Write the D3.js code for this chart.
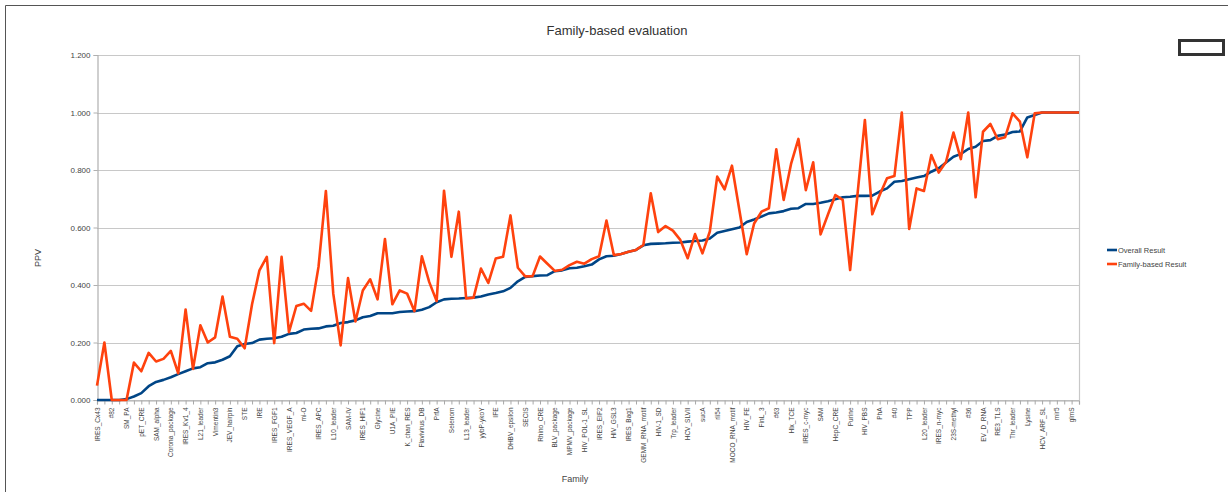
<!DOCTYPE html>
<html>
<head>
<meta charset="utf-8">
<script src="https://cdn.jsdelivr.net/npm/d3@7/dist/d3.min.js"></script>
<style>
  html, body { margin: 0; padding: 0; background: #fff; }
  svg { display: block; font-family: "Liberation Sans", Arial, sans-serif; }
</style>
</head>
<body>
<svg id="chart" width="1228" height="492"></svg>
<script>
// ---- Data ----
const tickLabels = [
  "IRES_Cx43", "#82", "SM_PA", "pET_CRE", "SAM_alpha", "Corona_package", "IRES_Kv1_4",
  "L21_leader", "Vimentin3", "JEV_hairpin", "STE", "IRE", "IRES_FGF1", "IRES_VEGF_A",
  "mi-O", "IRES_APC", "L10_leader", "SAM-IV", "IRES_HIF1", "Glycine", "U1A_PIE",
  "K_chan_RES", "Flavivirus_DB", "PrfA", "Selenom", "L13_leader", "yybP-ykoY", "IFE",
  "DHBV_epsilon", "SECIS", "Rhino_CRE", "BLV_package", "MPMV_package", "HIV_POL-1_SL",
  "IRES_EIF2", "HIV_GSL3", "IRES_Bag1", "GEMM_RNA_motif", "HIV-1_SD", "Trp_leader",
  "HCV_SLVII", "sucA", "rli54", "MOCO_RNA_motif", "HIV_FE", "FinL_3", "#63", "Hlx_TCE",
  "IRES_c-myc", "SAM", "HepC_CRE", "Purine", "HIV_PBS", "PhA", "#40", "TPP",
  "L20_leader", "IRES_n-myc", "23S-methyl", "#36", "EV_D_RNA", "RE3_TLS", "Thr_leader",
  "Lysine", "HCV_ARF_SL", "mir5", "glmS"
];

const overallResult = [
  0, 0, 0, 0, 0.003, 0.012, 0.024, 0.048, 0.063, 0.07,
  0.079, 0.09, 0.1, 0.11, 0.114, 0.128, 0.131, 0.14, 0.152, 0.187,
  0.195, 0.198, 0.21, 0.213, 0.215, 0.22, 0.23, 0.233, 0.245, 0.248,
  0.249, 0.256, 0.258, 0.268, 0.271, 0.277, 0.288, 0.292, 0.302, 0.302,
  0.302, 0.306, 0.308, 0.309, 0.314, 0.323, 0.34, 0.35, 0.352, 0.353,
  0.355, 0.356, 0.36, 0.367, 0.372, 0.378, 0.39, 0.413, 0.428, 0.431,
  0.433, 0.434, 0.448, 0.451, 0.458, 0.46, 0.465, 0.471, 0.489, 0.5,
  0.502, 0.508, 0.516, 0.522, 0.538, 0.543, 0.544, 0.545, 0.547, 0.548,
  0.551, 0.553, 0.555, 0.562, 0.582, 0.588, 0.594, 0.6, 0.619, 0.628,
  0.638, 0.649, 0.652, 0.657, 0.665, 0.667, 0.682, 0.682, 0.686, 0.691,
  0.698, 0.705, 0.707, 0.71, 0.71, 0.711, 0.725, 0.736, 0.759, 0.762,
  0.768, 0.774, 0.779, 0.794, 0.806, 0.826, 0.846, 0.856, 0.873, 0.881,
  0.901, 0.904, 0.919, 0.923, 0.932, 0.934, 0.983, 0.991, 1.0, 1.0,
  1.0, 1.0, 1.0, 1.0
];

const familyResult = [
  0.05, 0.2, 0, 0, 0, 0.13, 0.10, 0.164, 0.134, 0.143,
  0.171, 0.093, 0.315, 0.108, 0.26, 0.2, 0.218, 0.36, 0.22, 0.213,
  0.18, 0.333, 0.451, 0.498, 0.198, 0.498, 0.236, 0.327, 0.335, 0.31,
  0.463, 0.727, 0.37, 0.19, 0.424, 0.273, 0.381, 0.42, 0.35, 0.56,
  0.333, 0.381, 0.37, 0.309, 0.5, 0.41, 0.344, 0.728, 0.498, 0.655,
  0.353, 0.356, 0.457, 0.407, 0.492, 0.498, 0.642, 0.46, 0.43, 0.431,
  0.499, 0.474, 0.449, 0.453, 0.469, 0.481, 0.474, 0.49, 0.5, 0.624,
  0.504, 0.508, 0.516, 0.522, 0.539, 0.719, 0.584, 0.605, 0.589, 0.557,
  0.493, 0.577, 0.51, 0.586, 0.777, 0.733, 0.815, 0.661, 0.507, 0.614,
  0.655, 0.667, 0.872, 0.696, 0.821, 0.908, 0.73, 0.827, 0.576, 0.645,
  0.713, 0.696, 0.452, 0.715, 0.974, 0.646, 0.713, 0.771, 0.779, 1.0,
  0.595, 0.736, 0.727, 0.852, 0.791, 0.829, 0.93, 0.838, 1.0, 0.705,
  0.933, 0.96, 0.907, 0.914, 0.997, 0.968, 0.844, 0.997, 1.0, 1.0,
  1.0, 1.0, 1.0, 1.0
];

const yTicks = [0, 0.2, 0.4, 0.6, 0.8, 1.0, 1.2];
const seriesNames = ["Overall Result", "Family-based Result"];
const seriesColors = ["#004586", "#ff420e"];

// ---- Chart ----
const svg = d3.select("#chart");
const W = 1228, H = 492;
const m = { left: 97, right: W - 1079, top: 55, bottom: H - 400 };
const N = overallResult.length;

const x = d3.scaleLinear().domain([0, N - 1]).range([m.left, W - m.right]);
const y = d3.scaleLinear().domain([0, 1.2]).range([H - m.bottom, m.top]);

// outer frame lines
svg.append("line").attr("x1", 5.5).attr("x2", W).attr("y1", 5.5).attr("y2", 5.5)
  .attr("stroke", "#555").attr("stroke-width", 1);
svg.append("line").attr("x1", 5.5).attr("x2", 5.5).attr("y1", 5.5).attr("y2", H)
  .attr("stroke", "#555").attr("stroke-width", 1);
// small box top-right
svg.append("rect").attr("x", 1179.5).attr("y", 40.5).attr("width", 44).attr("height", 14)
  .attr("fill", "none").attr("stroke", "#333").attr("stroke-width", 3);

// gridlines
svg.append("g")
  .selectAll("line").data(yTicks).join("line")
  .attr("x1", m.left).attr("x2", W - m.right)
  .attr("y1", d => Math.round(y(d)) + 0.5).attr("y2", d => Math.round(y(d)) + 0.5)
  .attr("stroke", "#c8c8c8").attr("stroke-width", 1.2);

// right border of plot
svg.append("line")
  .attr("x1", W - m.right + 0.5).attr("x2", W - m.right + 0.5)
  .attr("y1", y(1.2)).attr("y2", y(0))
  .attr("stroke", "#c8c8c8").attr("stroke-width", 1.2);

// y axis
const yAxis = d3.axisLeft(y).tickValues(yTicks).tickFormat(d3.format(".3f")).tickSize(4).tickPadding(3);
const gy = svg.append("g").attr("transform", `translate(${m.left + 0.5},0)`).call(yAxis);
gy.select(".domain").attr("stroke", "#b0b0b0").attr("stroke-width", 1.2);
gy.selectAll(".tick line").attr("stroke", "#b0b0b0");
gy.selectAll("text").attr("font-size", 8).attr("fill", "#444")
  .attr("font-family", "'Liberation Sans', Arial, sans-serif");

// x axis
const xAxis = d3.axisBottom(x).tickValues(d3.range(N)).tickSize(4)
  .tickFormat(d => (d % 2 === 0 && tickLabels[d / 2] !== undefined) ? tickLabels[d / 2] : "");
const gx = svg.append("g").attr("transform", `translate(0,${y(0) + 0.5})`).call(xAxis);
gx.select(".domain").attr("stroke", "#b0b0b0").attr("stroke-width", 1.2);
gx.selectAll(".tick line").attr("stroke", "#a8a8a8");
gx.selectAll("text")
  .attr("font-size", 6.5).attr("fill", "#444")
  .attr("font-family", "'Liberation Sans', Arial, sans-serif")
  .attr("text-anchor", "end")
  .attr("transform", "rotate(-90)")
  .attr("dy", "0.32em")
  .attr("x", -7).attr("y", 0);

// lines
const line = d3.line().x((d, i) => x(i)).y(d => y(d));
[overallResult, familyResult].forEach((s, k) => {
  svg.append("path").datum(s)
    .attr("fill", "none")
    .attr("stroke", seriesColors[k])
    .attr("stroke-width", 2.6)
    .attr("stroke-linejoin", "round")
    .attr("d", line);
});

// title
svg.append("text").attr("x", 617).attr("y", 35).attr("text-anchor", "middle")
  .attr("font-size", 13).attr("fill", "#333").text("Family-based evaluation");

// axis titles
svg.append("text").attr("x", 575).attr("y", 482).attr("text-anchor", "middle")
  .attr("font-size", 9).attr("fill", "#444").text("Family");
svg.append("text").attr("transform", "translate(41,258) rotate(-90)").attr("text-anchor", "middle")
  .attr("font-size", 9).attr("fill", "#444").text("PPV");

// legend
const lg = svg.append("g").attr("transform", "translate(1107,250)");
seriesNames.forEach((name, k) => {
  const g = lg.append("g").attr("transform", `translate(0,${k * 14})`);
  g.append("line").attr("x1", 0).attr("x2", 10).attr("y1", 0).attr("y2", 0)
    .attr("stroke", seriesColors[k]).attr("stroke-width", 2.6);
  g.append("text").attr("x", 11).attr("y", 3).attr("font-size", 7.5).attr("fill", "#444").text(name);
});
</script>
</body>
</html>
